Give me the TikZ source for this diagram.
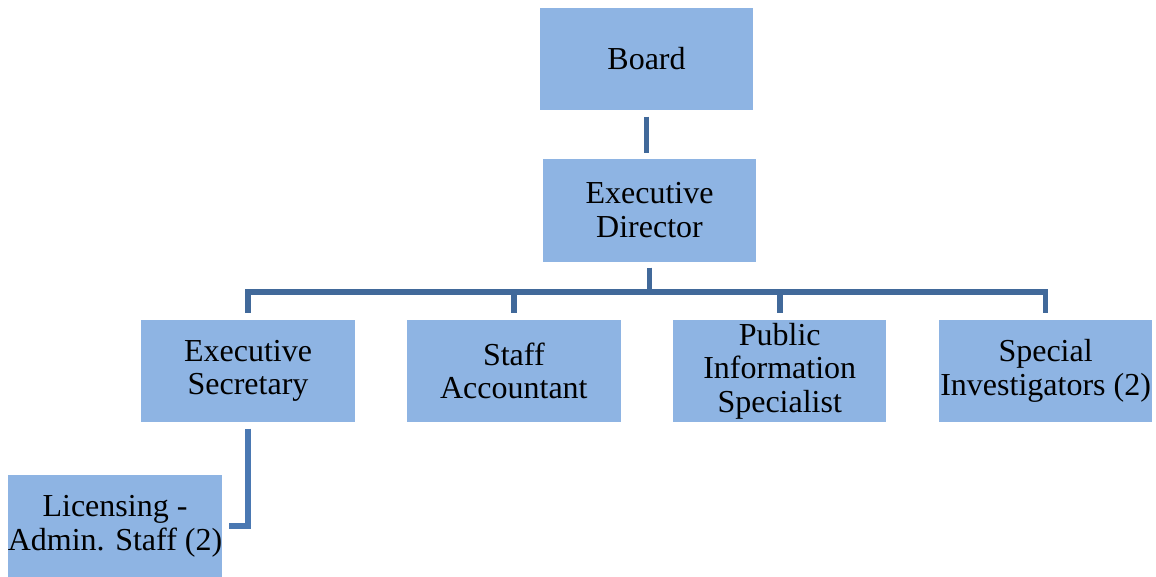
\documentclass[tikz,border=0pt]{standalone}
\usepackage{fontspec}
\setmainfont{Liberation Serif}
\usetikzlibrary{positioning}

\definecolor{boxblue}{HTML}{8EB4E3}
\definecolor{linkblue}{HTML}{41699A}
\definecolor{linklight}{HTML}{4A78B2}

\begin{document}
\begin{tikzpicture}[x=0.75pt,y=-0.75pt,
		post/.style={rectangle,fill=boxblue,minimum width=160pt,minimum height=77pt,
			align=center,inner sep=0pt,font=\fontsize{24}{25}\selectfont},
		link/.style={draw=linkblue,line width=4.2pt,shorten <=4.5pt,shorten >=4.5pt},
		sublink/.style={link,draw=linklight}]

		\useasboundingbox (0,0) rectangle (1156,576);

		\node[post] (board) at (646.5,59) {Board};
		\node[post] (ed) [below=36pt of board, xshift=2.25pt] {Executive\\Director};
		\node[post] (es) at (248,371) {Executive\\Secretary};
		\node[post] (sa) [right=39pt of es] {Staff\\Accountant};
		\node[post] (pi) [right=39pt of sa] {Public\\Information\\Specialist};
		\node[post] (si) [right=39pt of pi] {Special\\Investigators (2)};
		\node[post] (lic) [below=39pt of es, xshift=-99.75pt] {Licensing -\\Admin. Staff (2)};

		\coordinate (bar) at ([yshift=-22.5pt]ed.south);

		\draw[link] (board.south) -- (board.south |- ed.north);
		\foreach \n in {es,sa,pi,si}
		\draw[link] (ed.south) -- (bar) -| (\n.north);
		\draw[sublink] (es.south) |- (lic.east);
	\end{tikzpicture}
\end{document}
